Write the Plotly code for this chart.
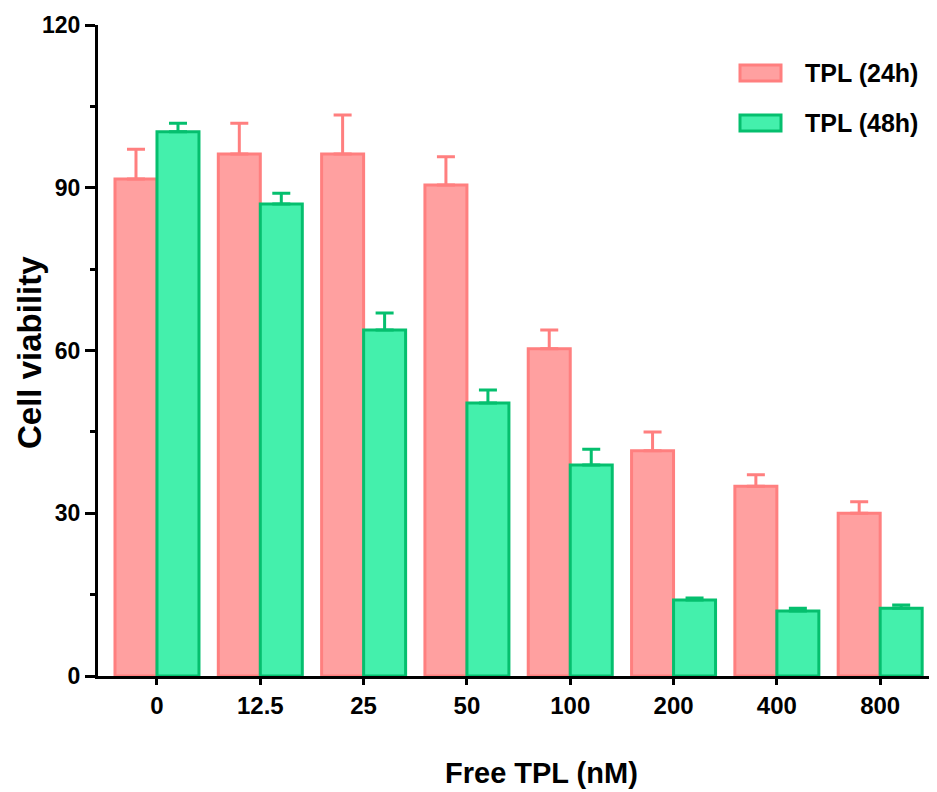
import plotly.graph_objects as go

categories = ["0", "12.5", "25", "50", "100", "200", "400", "800"]
series_names = ["TPL (24h)", "TPL (48h)"]
values_24h = [91.6, 96.2, 96.2, 90.5, 60.3, 41.5, 35.0, 30.0]
errors_24h = [5.5, 5.7, 7.2, 5.2, 3.5, 3.5, 2.1, 2.1]
values_48h = [100.3, 87.0, 63.8, 50.3, 38.9, 14.0, 12.0, 12.5]
errors_48h = [1.6, 2.0, 3.1, 2.4, 2.9, 0.4, 0.5, 0.6]
y_ticks = [0, 30, 60, 90, 120]

FONT = "Liberation Sans, Arial, sans-serif"
fills = ["#FFA0A0", "#44F0AC"]
borders = ["#FF7F7F", "#05BF6E"]

fig = go.Figure()
for name, vals, errs, fc, bc in [
    (series_names[0], values_24h, errors_24h, fills[0], borders[0]),
    (series_names[1], values_48h, errors_48h, fills[1], borders[1]),
]:
    fig.add_trace(go.Bar(
        x=list(range(len(categories))), y=vals, name=name,
        marker=dict(color=fc, line=dict(color=bc, width=3)),
        error_y=dict(type="data", array=errs, arrayminus=[0] * len(errs),
                     symmetric=False, color=bc, thickness=3, width=9),
        showlegend=False,
    ))

OFF = 8  # page body margin
W, H = 937 - OFF, 792 - OFF
ml, mr, mt, mb = 98 - OFF, 0, 25 - OFF, (792 - OFF) - (676 - OFF)
pw, ph = W - ml - mr, H - mt - mb

def px(x):
    return (x - OFF - ml) / pw

def py(y):
    return (H - mb - (y - OFF)) / ph

# manual legend
for i, (name, fc, bc) in enumerate(zip(series_names, fills, borders)):
    y0 = 65 + i * 50
    fig.add_shape(type="rect", xref="paper", yref="paper",
                  x0=px(740), x1=px(781), y0=py(y0 + 16), y1=py(y0),
                  fillcolor=fc, line=dict(color=bc, width=3))
    fig.add_annotation(xref="paper", yref="paper", x=px(803), y=py(y0 + 8),
                       text=name, showarrow=False, xanchor="left", yanchor="middle",
                       font=dict(family=FONT, size=25, color="black", weight="bold"))

fig.add_annotation(xref="paper", yref="paper", x=px(29), y=py(353),
                   text="Cell viability", textangle=-90, showarrow=False,
                   xanchor="center", yanchor="middle",
                   font=dict(family=FONT, size=33, color="black", weight="bold"))
fig.add_annotation(xref="paper", yref="paper", x=px(541), y=py(773),
                   text="Free TPL (nM)", showarrow=False,
                   xanchor="center", yanchor="middle",
                   font=dict(family=FONT, size=29, color="black", weight="bold"))

fig.update_layout(
    width=W, height=H,
    margin=dict(l=ml, r=mr, t=mt, b=mb),
    plot_bgcolor="white", paper_bgcolor="white",
    barmode="group", bargap=0.187, bargroupgap=0,
    xaxis=dict(range=[-0.571, 7.55], tickmode="array",
               tickvals=list(range(len(categories))), ticktext=categories,
               showline=True, linecolor="black", linewidth=3,
               ticks="outside", ticklen=6, tickwidth=3, tickcolor="black",
               showgrid=False, zeroline=False,
               tickfont=dict(family=FONT, size=24, color="black", weight="bold")),
    yaxis=dict(range=[0, 120], tickmode="array", tickvals=y_ticks,
               showline=True, linecolor="black", linewidth=3,
               ticks="outside", ticklen=10, tickwidth=3, tickcolor="black",
               minor=dict(dtick=15, ticks="outside", ticklen=5, tickwidth=3, tickcolor="black"),
               showgrid=False, zeroline=False,
               tickfont=dict(family=FONT, size=23, color="black", weight="bold")),
)

fig.write_html("out.html")
